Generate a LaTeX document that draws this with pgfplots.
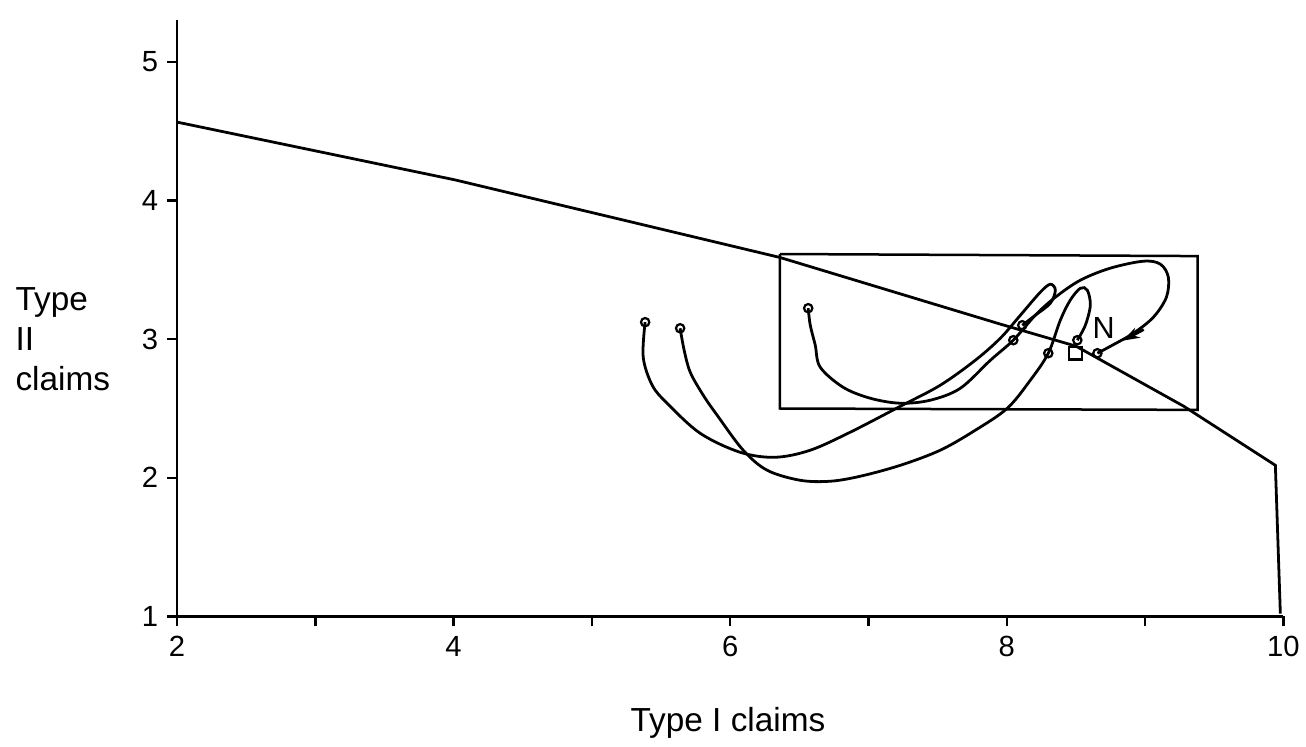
\documentclass[border=0pt]{standalone}
\usepackage{fontspec}
\setmainfont{Liberation Sans}
\usepackage{pgfplots}
\pgfplotsset{compat=1.18}
\usetikzlibrary{arrows.meta}
\begin{document}
\begin{tikzpicture}
\useasboundingbox (-63.7pt,-46.8pt) rectangle (406.3pt,221.8pt);
\begin{axis}[at={(0pt,0pt)}, anchor=south west, scale only axis,
  width=398.16pt, height=214.56pt,
  xmin=2, xmax=10, ymin=1, ymax=5.303,
  axis lines*=left, axis line style={line width=1pt},
  xtick={2,...,10}, xticklabels={2,,4,,6,,8,,10},
  ytick={1,...,5}, yticklabels={1,2,3,4,5},
  tick align=outside, major tick length=3.6pt,
  tick style={line width=0.9pt, black},
  tick label style={font=\fontsize{10.5}{12}\selectfont},
  yticklabel style={xshift=0.3pt},
  xlabel={Type I claims},
  xlabel style={font=\fontsize{12}{14}\selectfont, at={(axis description cs:0.498,0)}, anchor=center, yshift=-38.2pt},
  clip=false,
  every axis plot/.append style={line width=1pt, black}]
% descending line
\addplot[no marks] coordinates {(2,4.567) (4.01,4.15) (6.36,3.59) (7.95,3.11) (8.50,2.95) (9.28,2.516) (9.942,2.09) (9.978,1.02)};
% rectangle
\addplot[no marks, line width=0.9pt] coordinates {(6.36,3.615) (9.38,3.60) (9.38,2.49) (6.36,2.50) (6.36,3.615)};
% curve A
\addplot[no marks, smooth, tension=0.55] coordinates {(5.385,3.123) (5.371,2.870) (5.436,2.668) (5.544,2.538) (5.783,2.321) (6.072,2.184) (6.325,2.148) (6.579,2.199) (6.868,2.329) (7.230,2.516) (7.519,2.668) (7.772,2.848) (7.953,3.007) (8.098,3.173) (8.242,3.339) (8.315,3.397) (8.351,3.354) (8.315,3.260) (8.206,3.173) (8.112,3.101)};
% curve B
\addplot[no marks, smooth, tension=0.55] coordinates {(5.638,3.079) (5.667,2.921) (5.711,2.762) (5.805,2.596) (5.906,2.451) (6.094,2.199) (6.268,2.054) (6.506,1.982) (6.723,1.975) (6.940,2.011) (7.230,2.090) (7.519,2.199) (7.772,2.343) (8.004,2.502) (8.170,2.704) (8.300,2.899) (8.387,3.137) (8.459,3.282) (8.532,3.368) (8.582,3.354) (8.604,3.245) (8.568,3.101) (8.510,2.993)};
% curve C
\addplot[no marks, smooth, tension=0.55] coordinates {(6.564,3.224) (6.579,3.101) (6.615,2.957) (6.651,2.798) (6.817,2.653) (7.013,2.574) (7.230,2.538) (7.447,2.560) (7.664,2.646) (7.881,2.848) (8.047,2.993) (8.206,3.173) (8.351,3.303) (8.532,3.426) (8.749,3.513) (8.987,3.563) (9.110,3.542) (9.168,3.448) (9.154,3.303) (9.060,3.159) (8.915,3.043) (8.749,2.949) (8.655,2.899)};
% arrow on curve C
\addplot[no marks, -{Stealth[length=6pt,width=4pt]}] coordinates {(8.99,3.07) (8.84,2.99)};
% circle markers
\addplot[only marks, mark=o, mark size=1.5pt, mark options={line width=0.8pt, fill=white}] coordinates {(5.385,3.123) (5.638,3.079) (6.564,3.224) (8.112,3.101) (8.047,2.993) (8.300,2.899) (8.510,2.993) (8.655,2.899)};
% square marker
\addplot[only marks, mark=square, mark size=2.3pt, mark options={line width=0.8pt, fill=white}] coordinates {(8.495,2.90)};
\node[font=\fontsize{11}{13}\selectfont, anchor=center] at (axis cs:8.70,3.08) {N};
\end{axis}
\node[anchor=west, align=left, inner sep=0pt, font=\fontsize{12}{14.4}\selectfont] at (-58.3pt,99.7pt) {Type\\II\\claims};
\end{tikzpicture}
\end{document}
